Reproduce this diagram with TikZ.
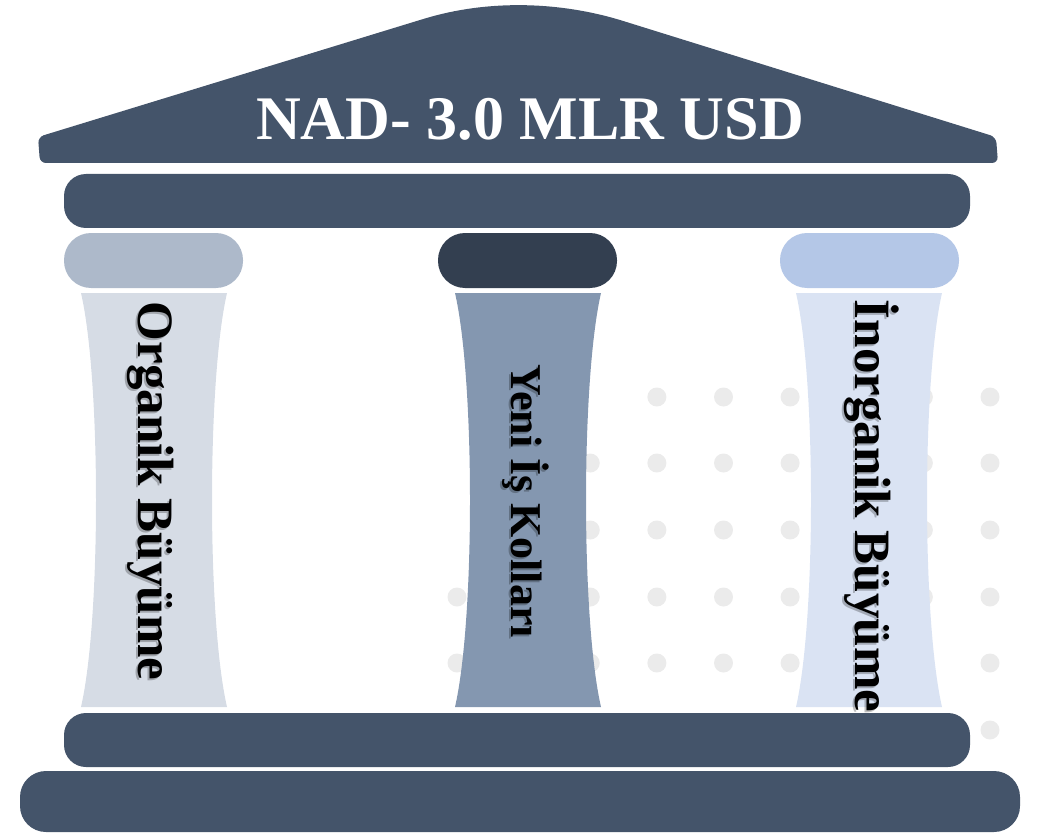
\documentclass[tikz,border=0pt]{standalone}
\usepackage{fontspec}
\setmainfont{Liberation Serif}
\definecolor{slate}{HTML}{44546A}
\definecolor{capA}{HTML}{ADB9CA}
\definecolor{shaftA}{HTML}{D6DCE5}
\definecolor{capB}{HTML}{333F50}
\definecolor{shaftB}{HTML}{8497B0}
\definecolor{capC}{HTML}{B4C7E7}
\definecolor{shaftC}{HTML}{DAE3F3}
\definecolor{dotgray}{HTML}{EBEBEB}
\begin{document}
\begin{tikzpicture}[x=1pt,y=-1pt,
  beam/.style={fill=slate,rounded corners=22},
  capital/.style={rounded corners=27},
  pillartext/.style={rotate=-90,anchor=base,inner sep=0pt,font=\bfseries\fontsize{51}{51}\selectfont},
  shadowtext/.style={pillartext,text=black,opacity=0.25}]
  \useasboundingbox (0,0) rectangle (1040,834);

  % dots behind the columns
  \foreach \y/\n in {397/3,463/2,530/2,597/0,663/0}
    \foreach \i in {\n,...,8}
      \fill[dotgray] (457+66.625*\i,\y) circle (9.5);
  \fill[dotgray] (990,730) circle (9.5);

  % roof
  \fill[slate] (40,163) [rounded corners=6] -- (38,137) -- (420,20) [sharp corners]
    .. controls (485,0.5) and (555,0.5) .. (620,20) [rounded corners=6]
    -- (996,137) -- (998,163) -- cycle;
  \node[text=white,inner sep=0pt,font=\bfseries\fontsize{62}{62}\selectfont] (title) at (530,119) {NAD- 3.0 MLR USD};

  % beams
  \fill[beam] (64,174) rectangle (970,228);
  \fill[beam] (64,713) rectangle (970,767);
  \fill[beam,rounded corners=26] (20,771) rectangle (1020,832);

  % capitals
  \fill[capital,capA] (64,233) rectangle (243,288);
  \fill[capital,capB] (438,233) rectangle (617,288);
  \fill[capital,capC] (780,233) rectangle (959,288);

  % shafts
  \fill[shaftA] (81,293) -- (227,293) .. controls (207,380) and (207,620) .. (227,707)
    -- (81,707) .. controls (101,620) and (101,380) .. (81,293) -- cycle;
  \fill[shaftB] (455,293) -- (601,293) .. controls (581,380) and (581,620) .. (601,707)
    -- (455,707) .. controls (475,620) and (475,380) .. (455,293) -- cycle;
  \fill[shaftC] (796,293) -- (942,293) .. controls (922,380) and (922,620) .. (942,707)
    -- (796,707) .. controls (816,620) and (816,380) .. (796,293) -- cycle;

  % column labels
  \node[shadowtext] (organik-s) at (136,493) {Organik Büyüme};
  \node[pillartext] (organik) at (138,491) {Organik Büyüme};
  \node[shadowtext,font=\bfseries\fontsize{44}{44}\selectfont] (yeni-s) at (509,503) {Yeni İş Kolları};
  \node[pillartext,font=\bfseries\fontsize{44}{44}\selectfont] (yeni) at (511,501) {Yeni İş Kolları};
  \node[shadowtext] (inorganik-s) at (853,508) {İnorganik Büyüme};
  \node[pillartext] (inorganik) at (855,506) {İnorganik Büyüme};
\end{tikzpicture}
\end{document}
